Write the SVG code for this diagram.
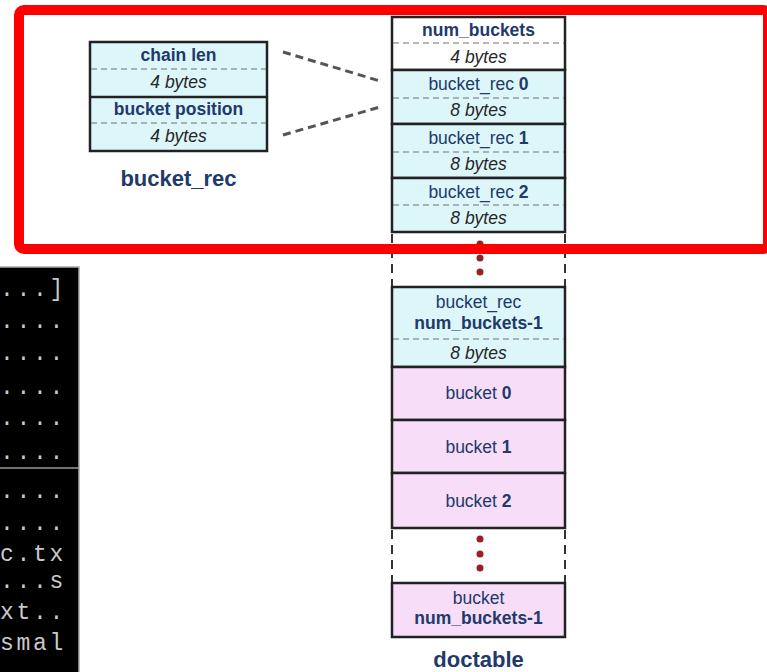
<svg xmlns="http://www.w3.org/2000/svg" width="767" height="672" viewBox="0 0 767 672">
<style>
.box{stroke:#222;stroke-width:2.5}
.cy{fill:#dcf6fa}
.pk{fill:#f7ddf7}
.wh{fill:#ffffff}
.dl{stroke:#707070;stroke-width:1.2;stroke-dasharray:6,4;fill:none}
.t{font-family:"Liberation Sans",Arial,sans-serif;font-size:17.5px;fill:#21396b;text-anchor:middle}
.b{font-weight:bold}
.i{font-style:italic;fill:#262626}
.big{font-family:"Liberation Sans",Arial,sans-serif;font-size:22px;font-weight:bold;fill:#21396b;text-anchor:middle}
.term{font-family:"Liberation Mono","Courier New",monospace;font-size:23px;letter-spacing:2.7px;fill:#c9c9c9}
.gapline{stroke:#333;stroke-width:2;stroke-dasharray:9,6}
.dot{fill:#9a1f22}
.conn{stroke:#555;stroke-width:3;stroke-dasharray:8,5;fill:none}
</style>

<g id="terminal">
<rect x="-2" y="267" width="81" height="410" fill="#000" stroke="#aaa" stroke-width="1.5"/>
<line x1="0" y1="468" x2="79" y2="468" stroke="#999" stroke-width="1.5"/>
<text class="term" x="0" y="296">...]</text>
<text class="term" x="0" y="328">....</text>
<text class="term" x="0" y="360">....</text>
<text class="term" x="0" y="394">....</text>
<text class="term" x="0" y="425">....</text>
<text class="term" x="0" y="459">....</text>
<text class="term" x="0" y="498">....</text>
<text class="term" x="0" y="530">....</text>
<text class="term" x="0" y="561">c.tx</text>
<text class="term" x="0" y="588">...s</text>
<text class="term" x="0" y="619">xt..</text>
<text class="term" x="0" y="650">smal</text>
</g>

<g id="bucket_rec">
<rect class="box cy" x="90" y="42" width="177" height="109"/>
<line class="box" x1="90" y1="97" x2="267" y2="97"/>
<line class="dl" x1="91" y1="69" x2="266" y2="69"/>
<line class="dl" x1="91" y1="123" x2="266" y2="123"/>
<text class="t b" x="178.5" y="61">chain len</text>
<text class="t i" x="178.5" y="88">4 bytes</text>
<text class="t b" x="178.5" y="115">bucket position</text>
<text class="t i" x="178.5" y="142">4 bytes</text>
<text class="big" x="178.5" y="186">bucket_rec</text>
</g>

<g id="connectors">
<line class="conn" x1="283" y1="52" x2="380" y2="81"/>
<line class="conn" x1="283" y1="135" x2="380" y2="107"/>
</g>

<g id="doctable">
<g id="num_buckets">
<rect class="box wh" x="392" y="17" width="173" height="53"/>
<line class="dl" x1="393" y1="43" x2="564" y2="43"/>
<text class="t b" x="478.5" y="36">num_buckets</text>
<text class="t i" x="478.5" y="63">4 bytes</text>
</g>
<g id="rec0">
<rect class="box cy" x="392" y="70" width="173" height="54"/>
<line class="dl" x1="393" y1="98" x2="564" y2="98"/>
<text class="t" x="478.5" y="90">bucket_rec <tspan class="b">0</tspan></text>
<text class="t i" x="478.5" y="116">8 bytes</text>
</g>
<g id="rec1">
<rect class="box cy" x="392" y="124" width="173" height="54"/>
<line class="dl" x1="393" y1="152" x2="564" y2="152"/>
<text class="t" x="478.5" y="144">bucket_rec <tspan class="b">1</tspan></text>
<text class="t i" x="478.5" y="170">8 bytes</text>
</g>
<g id="rec2">
<rect class="box cy" x="392" y="178" width="173" height="54"/>
<line class="dl" x1="393" y1="205" x2="564" y2="205"/>
<text class="t" x="478.5" y="198">bucket_rec <tspan class="b">2</tspan></text>
<text class="t i" x="478.5" y="224">8 bytes</text>
</g>
<g id="gap1">
<line class="gapline" x1="392" y1="234" x2="392" y2="287"/>
<line class="gapline" x1="565" y1="234" x2="565" y2="287"/>
<circle class="dot" cx="480" cy="244" r="3.5"/>
<circle class="dot" cx="480" cy="258" r="3.5"/>
<circle class="dot" cx="480" cy="272" r="3.5"/>
</g>
<g id="recN">
<rect class="box cy" x="392" y="287" width="173" height="80"/>
<line class="dl" x1="393" y1="339" x2="564" y2="339"/>
<text class="t" x="478.5" y="308">bucket_rec</text>
<text class="t b" x="478.5" y="329">num_buckets-1</text>
<text class="t i" x="478.5" y="359">8 bytes</text>
</g>
<g id="bucket0">
<rect class="box pk" x="392" y="367" width="173" height="53"/>
<text class="t" x="478.5" y="399">bucket <tspan class="b">0</tspan></text>
</g>
<g id="bucket1">
<rect class="box pk" x="392" y="420" width="173" height="53"/>
<text class="t" x="478.5" y="453">bucket <tspan class="b">1</tspan></text>
</g>
<g id="bucket2">
<rect class="box pk" x="392" y="473" width="173" height="55"/>
<text class="t" x="478.5" y="507">bucket <tspan class="b">2</tspan></text>
</g>
<g id="gap2">
<line class="gapline" x1="392" y1="530" x2="392" y2="583"/>
<line class="gapline" x1="565" y1="530" x2="565" y2="583"/>
<circle class="dot" cx="480" cy="539" r="3.5"/>
<circle class="dot" cx="480" cy="554" r="3.5"/>
<circle class="dot" cx="480" cy="568" r="3.5"/>
</g>
<g id="bucketN">
<rect class="box pk" x="392" y="583" width="173" height="54"/>
<text class="t" x="478.5" y="604">bucket</text>
<text class="t b" x="478.5" y="624">num_buckets-1</text>
</g>
<text class="big" x="478.5" y="667">doctable</text>
</g>

<g id="highlight">
<rect x="19" y="10" width="749" height="239" rx="5" fill="none" stroke="#ff0000" stroke-width="10"/>
</g>
</svg>
